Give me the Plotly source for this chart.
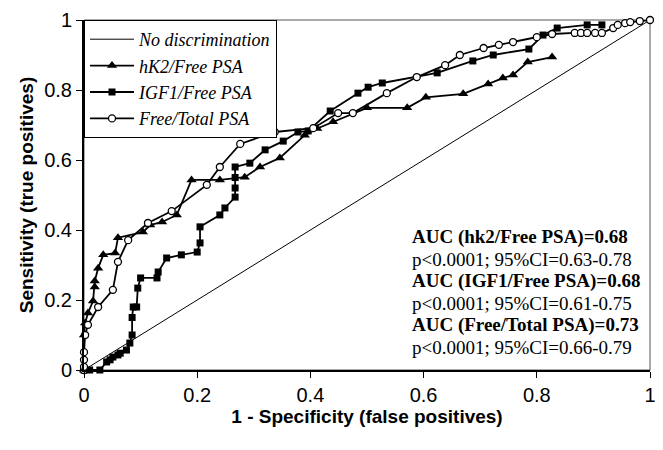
import plotly.graph_objects as go

# ---- data ----
diag_x = [0, 1]
diag_y = [0, 1]

hk2_x = [0, 0, 0.002, 0.007, 0.016, 0.019, 0.019, 0.025, 0.034, 0.055, 0.06, 0.104, 0.117, 0.138, 0.164,
         0.19, 0.24, 0.284, 0.311, 0.346, 0.39, 0.412, 0.44, 0.5, 0.571, 0.604, 0.67, 0.714, 0.74, 0.758,
         0.784, 0.827]
hk2_y = [0, 0.1, 0.134, 0.163, 0.197, 0.237, 0.254, 0.291, 0.329, 0.334, 0.378, 0.394, 0.414, 0.423, 0.443,
         0.543, 0.543, 0.551, 0.58, 0.606, 0.671, 0.69, 0.709, 0.749, 0.749, 0.779, 0.789, 0.817, 0.834, 0.843,
         0.88, 0.894]

igf_x = [0, 0.01, 0.028, 0.04, 0.046, 0.051, 0.06, 0.064, 0.075, 0.081, 0.085, 0.085, 0.087, 0.093, 0.095,
         0.1, 0.129, 0.131, 0.146, 0.172, 0.2, 0.205, 0.205, 0.24, 0.249, 0.267, 0.267, 0.267, 0.267, 0.293,
         0.32, 0.352, 0.378, 0.396, 0.435, 0.484, 0.502, 0.527, 0.624, 0.687, 0.723, 0.786, 0.811, 0.836,
         0.889, 0.915]
igf_y = [0, 0, 0, 0.023, 0.029, 0.037, 0.043, 0.048, 0.057, 0.077, 0.1, 0.15, 0.18, 0.18, 0.234,
         0.263, 0.263, 0.28, 0.32, 0.329, 0.337, 0.363, 0.409, 0.443, 0.463, 0.494, 0.52, 0.55, 0.58, 0.591,
         0.629, 0.654, 0.68, 0.683, 0.74, 0.791, 0.808, 0.82, 0.849, 0.883, 0.9, 0.917, 0.957, 0.977,
         0.986, 0.986]

ft_x = [0, 0, 0, 0, 0.002, 0.007, 0.025, 0.051, 0.06, 0.078, 0.113, 0.155, 0.217, 0.24, 0.276, 0.337,
        0.405, 0.449, 0.475, 0.535, 0.588, 0.638, 0.664, 0.706, 0.733, 0.758, 0.8, 0.827, 0.867, 0.878,
        0.889, 0.903, 0.915, 0.935, 0.943, 0.956, 0.965, 0.982, 1.0]
ft_y = [0, 0.009, 0.029, 0.051, 0.1, 0.129, 0.18, 0.229, 0.309, 0.371, 0.42, 0.454, 0.529, 0.58, 0.646, 0.68,
        0.691, 0.734, 0.734, 0.791, 0.837, 0.871, 0.9, 0.92, 0.929, 0.937, 0.951, 0.96, 0.963, 0.963,
        0.963, 0.963, 0.963, 0.977, 0.986, 0.991, 0.994, 0.997, 1.0]

tick_vals = [0, 0.2, 0.4, 0.6, 0.8, 1]
tick_text = ["0", "0.2", "0.4", "0.6", "0.8", "1"]

auc_lines = [
    "<b>AUC (hk2/Free PSA)=0.68</b>",
    "p<0.0001; 95%CI=0.63-0.78",
    "<b>AUC (IGF1/Free PSA)=0.68</b>",
    "p<0.0001; 95%CI=0.61-0.75",
    "<b>AUC (Free/Total PSA)=0.73</b>",
    "p<0.0001; 95%CI=0.66-0.79",
]

SANS = "Liberation Sans, Arial, sans-serif"
SERIF = "Liberation Serif, Times New Roman, serif"

fig = go.Figure()
fig.add_trace(go.Scatter(x=diag_x, y=diag_y, mode="lines", name="No discrimination",
                         line=dict(color="black", width=1)))
fig.add_trace(go.Scatter(x=hk2_x, y=hk2_y, mode="lines+markers", name="hK2/Free PSA",
                         line=dict(color="black", width=1.8),
                         marker=dict(symbol="triangle-up", size=9, color="black"),
                         cliponaxis=False))
fig.add_trace(go.Scatter(x=igf_x, y=igf_y, mode="lines+markers", name="IGF1/Free PSA",
                         line=dict(color="black", width=1.8),
                         marker=dict(symbol="square", size=7, color="black"),
                         cliponaxis=False))
fig.add_trace(go.Scatter(x=ft_x, y=ft_y, mode="lines+markers", name="Free/Total PSA",
                         line=dict(color="black", width=1.8),
                         marker=dict(symbol="circle", size=7, color="white",
                                     line=dict(color="black", width=1.3)),
                         cliponaxis=False))

for i, t in enumerate(auc_lines):
    fig.add_annotation(x=0.576, y=0.38 - i * 0.0629, xref="paper", yref="paper",
                       text=t, showarrow=False, xanchor="left", yanchor="middle",
                       font=dict(family=SERIF, size=19, color="black"))

fig.add_shape(type="rect", xref="paper", yref="paper", x0=0, y0=0, x1=1, y1=1,
              line=dict(color="#555", width=1), layer="below")

fig.update_xaxes(range=[0, 1], tickvals=tick_vals, ticktext=tick_text, ticks="outside",
                 ticklen=6, tickcolor="black", showline=True, linecolor="black", linewidth=2,
                 showgrid=False, zeroline=False, automargin=False, ticklabeloverflow="allow",
                 tickfont=dict(family=SANS, size=20, color="black"),
                 title=dict(text="<b>1 - Specificity (false positives)</b>", standoff=2,
                            font=dict(family=SANS, size=19, color="black")))
fig.update_yaxes(range=[0, 1], tickvals=tick_vals, ticktext=tick_text, ticks="outside",
                 ticklen=6, tickcolor="black", showline=True, linecolor="black", linewidth=2,
                 showgrid=False, zeroline=False, automargin=False, ticklabeloverflow="allow",
                 tickfont=dict(family=SANS, size=20, color="black"),
                 title=dict(text="<b>Sensitivity (true positives)</b>", standoff=6,
                            font=dict(family=SANS, size=19, color="black")))

# page body has an 8px margin: size/margins compensate so the plot area lands at 84..650 x 20..370
fig.update_layout(
    width=647, height=434,
    margin=dict(l=76, r=5, t=12, b=72),
    paper_bgcolor="white", plot_bgcolor="white",
    showlegend=True,
    legend=dict(x=0, y=1, xanchor="left", yanchor="top", bgcolor="white",
                bordercolor="black", borderwidth=1, itemwidth=44,
                font=dict(family=SERIF, size=18, color="black", style="italic"),
                tracegroupgap=0),
)

fig.write_html("out.html")
